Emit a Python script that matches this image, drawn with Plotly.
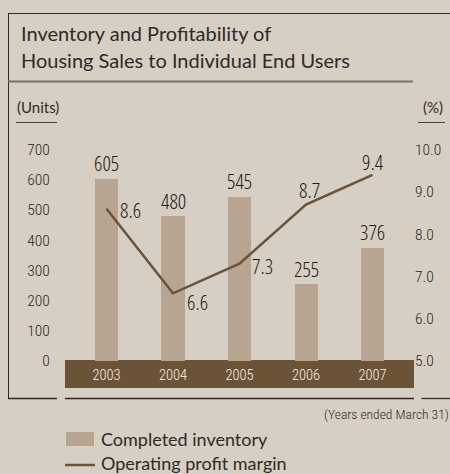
import plotly.graph_objects as go

years = ["2003", "2004", "2005", "2006", "2007"]
inventory = [605, 480, 545, 255, 376]
margin = [8.6, 6.6, 7.3, 8.7, 9.4]
left_ticks = [0, 100, 200, 300, 400, 500, 600, 700]
right_ticks = [5.0, 6.0, 7.0, 8.0, 9.0, 10.0]
right_tick_text = ["5.0", "6.0", "7.0", "8.0", "9.0", "10.0"]
# label offsets (px) for the margin values
margin_label_shift = [(24, -1), (24, -9), (23, -2), (3, 14), (0, 13)]

W, H = 450, 474
BG = "#d7cfc4"
BAR = "#b8a591"
DARK = "#6b5337"
TXT = "#2e2a28"
NARROW = "Roboto Condensed, DejaVu Sans Condensed, sans-serif"
VALUE = "Open Sans Condensed Light, Roboto Condensed, sans-serif"
HUM = "Lato, Open Sans, sans-serif"

def px(x):
    return x / W

def py(y):
    return 1 - y / H

fig = go.Figure()
fig.add_trace(go.Bar(x=years, y=inventory, width=0.346, marker=dict(color=BAR, line=dict(width=0)),
                     name="Completed inventory", yaxis="y", showlegend=False))
fig.add_trace(go.Scatter(x=years, y=margin, mode="lines", line=dict(color=DARK, width=2.5),
                         name="Operating profit margin", yaxis="y2", showlegend=False, cliponaxis=False))

vfont = dict(family=VALUE, size=21, color="#1f1b19")
ann = []
for i, v in enumerate(inventory):
    ann.append(dict(x=i, y=v, xref="x", yref="y", text=str(v), showarrow=False,
                    yanchor="middle", yshift=15, font=vfont))
for i, (v, (dx, dy)) in enumerate(zip(margin, margin_label_shift)):
    ann.append(dict(x=i, y=v, xref="x", yref="y2", text=f"{v:.1f}", showarrow=False,
                    yanchor="middle", xshift=dx, yshift=dy, font=vfont))

# title
ann.append(dict(x=px(19), y=py(33.5), xref="paper", yref="paper", xanchor="left", yanchor="middle",
                text="Inventory and Profitability of", showarrow=False,
                font=dict(family=HUM, size=20, color=TXT)))
ann.append(dict(x=px(19), y=py(60.5), xref="paper", yref="paper", xanchor="left", yanchor="middle",
                text="Housing Sales to Individual End Users", showarrow=False,
                font=dict(family=HUM, size=20, color=TXT)))
ann.append(dict(x=px(15), y=py(107), xref="paper", yref="paper", xanchor="left", yanchor="middle",
                text="(Units)", showarrow=False, font=dict(family=HUM, size=15, color=TXT)))
ann.append(dict(x=px(445), y=py(107), xref="paper", yref="paper", xanchor="right", yanchor="middle",
                text="(%)", showarrow=False, font=dict(family=HUM, size=15, color=TXT)))
ann.append(dict(x=px(451), y=py(414), xref="paper", yref="paper", xanchor="right", yanchor="middle",
                text="(Years ended March 31)", showarrow=False,
                font=dict(family=NARROW, size=13.5, color=TXT, weight=300)))
ann.append(dict(x=px(99), y=py(439), xref="paper", yref="paper", xanchor="left", yanchor="middle",
                text="Completed inventory", showarrow=False, font=dict(family=HUM, size=18, color=TXT)))
ann.append(dict(x=px(99), y=py(463), xref="paper", yref="paper", xanchor="left", yanchor="middle",
                text="Operating profit margin", showarrow=False, font=dict(family=HUM, size=18, color=TXT)))

shapes = [
    # frame
    dict(type="line", xref="paper", yref="paper", x0=px(8), x1=1, y0=py(13.5), y1=py(13.5),
         line=dict(color="#2e2a28", width=1)),
    dict(type="line", xref="paper", yref="paper", x0=px(8.5), x1=px(8.5), y0=py(13), y1=py(398.5),
         line=dict(color="#2e2a28", width=1)),
    dict(type="line", xref="paper", yref="paper", x0=px(8), x1=px(413), y0=py(81.5), y1=py(81.5),
         line=dict(color="#78706a", width=2)),
    dict(type="line", xref="paper", yref="paper", x0=px(16), x1=px(57), y0=py(122.5), y1=py(122.5),
         line=dict(color="#4a433f", width=1)),
    dict(type="line", xref="paper", yref="paper", x0=px(418), x1=px(445), y0=py(122.5), y1=py(122.5),
         line=dict(color="#4a433f", width=1)),
    dict(type="line", xref="paper", yref="paper", x0=px(8), x1=px(57), y0=py(398.5), y1=py(398.5),
         line=dict(color="#2e2a28", width=1.3)),
    dict(type="line", xref="paper", yref="paper", x0=px(65), x1=px(414), y0=py(398.5), y1=py(398.5),
         line=dict(color="#2e2a28", width=1.3)),
    dict(type="line", xref="paper", yref="paper", x0=px(421.5), x1=1, y0=py(398.5), y1=py(398.5),
         line=dict(color="#2e2a28", width=1.3)),
    # year band
    dict(type="rect", xref="x domain", yref="paper", x0=0, x1=1, y0=py(388), y1=py(360),
         fillcolor=DARK, line=dict(width=0), layer="below"),
    # legend swatches
    dict(type="rect", xref="paper", yref="paper", x0=px(66), x1=px(94), y0=py(446), y1=py(432),
         fillcolor=BAR, line=dict(width=0)),
    dict(type="line", xref="paper", yref="paper", x0=px(65), x1=px(95), y0=py(465), y1=py(465),
         line=dict(color=DARK, width=2.5)),
]

dom_y = [py(361), py(149.5)]
tickf = dict(family=NARROW, size=15.5, color="#2a2624", weight=300)
fig.update_layout(
    width=W, height=H, margin=dict(l=0, r=0, t=0, b=0),
    paper_bgcolor=BG, plot_bgcolor="rgba(0,0,0,0)",
    showlegend=False, bargap=0,
    xaxis=dict(domain=[px(65), px(414)], type="category", range=[-0.624, 4.624],
               showgrid=False, zeroline=False, showline=False,
               ticks="outside", ticklen=1, tickcolor="rgba(0,0,0,0)", automargin=False,
               tickfont=dict(family=NARROW, size=14.5, color="#f5f1ec", weight=300)),
    yaxis=dict(domain=dom_y, range=[0, 700], tickvals=left_ticks, showgrid=False, zeroline=False,
               showline=False, ticks="outside", ticklen=11, tickcolor="rgba(0,0,0,0)",
               automargin=False, tickfont=tickf),
    yaxis2=dict(domain=dom_y, range=[5, 10], overlaying="y", side="right", anchor="x",
                tickvals=right_ticks, ticktext=right_tick_text, showgrid=False, zeroline=False,
                showline=False, ticks="", automargin=False, tickfont=tickf),
    annotations=ann, shapes=shapes,
)

fig.write_html("out.html", config={"displayModeBar": False},
               post_script="document.body.style.margin='0';document.body.style.overflow='hidden';"
                           "document.documentElement.style.background='" + BG + "';")
